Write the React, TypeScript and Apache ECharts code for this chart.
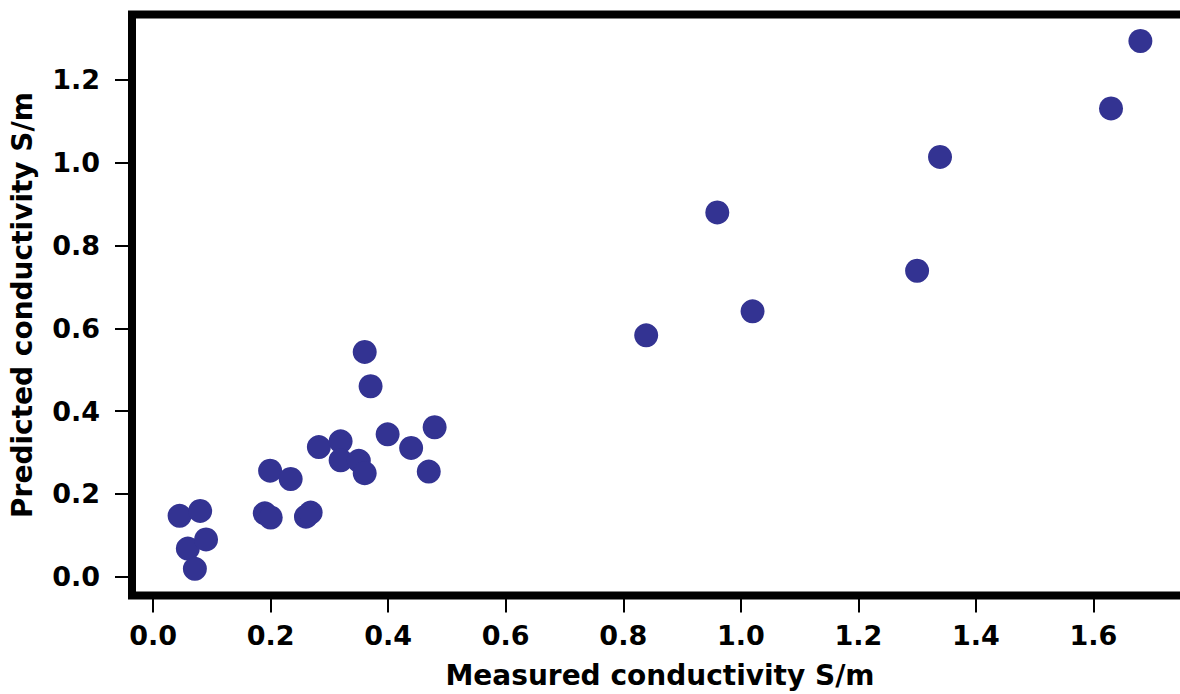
import React, { useEffect, useRef } from "react";
import * as echarts from "echarts";

const measured = [
  0.045, 0.08, 0.059, 0.09, 0.071, 0.19, 0.2, 0.199, 0.234, 0.26, 0.268, 0.282,
  0.319, 0.319, 0.35, 0.36, 0.36, 0.37, 0.399, 0.439, 0.479, 0.469, 0.839,
  0.96, 1.02, 1.3, 1.339, 1.63, 1.68,
];
const predicted = [
  0.147, 0.159, 0.068, 0.09, 0.019, 0.153, 0.143, 0.256, 0.236, 0.145, 0.155,
  0.313, 0.327, 0.281, 0.28, 0.25, 0.543, 0.46, 0.344, 0.311, 0.361, 0.254,
  0.583, 0.88, 0.641, 0.739, 1.014, 1.131, 1.294,
];
const xTicks = [0, 0.2, 0.4, 0.6, 0.8, 1.0, 1.2, 1.4, 1.6];
const yTicks = [0, 0.2, 0.4, 0.6, 0.8, 1.0, 1.2];
const xTitle = "Measured conductivity S/m";
const yTitle = "Predicted conductivity S/m";

const FONT = "DejaVu Sans";

export default function App() {
  const ref = useRef<HTMLDivElement>(null);
  useEffect(() => {
    if (!ref.current) return;
    const chart = echarts.init(ref.current, null, { renderer: "svg" });
    const labelStyle = {
      fontFamily: FONT,
      fontWeight: "bold" as const,
      fontSize: 27,
      color: "#000",
    };
    chart.setOption({
      animation: false,
      backgroundColor: "#fff",
      grid: {
        left: 132,
        top: 14.5,
        bottom: 98.5,
        right: -8,
        containLabel: false,
        outerBoundsMode: "none",
        show: true,
        borderColor: "#000",
        borderWidth: 8,
        backgroundColor: "transparent",
      },
      xAxis: {
        type: "value",
        min: -0.036,
        max: 1.761,
        splitLine: { show: false },
        axisLine: { show: false, onZero: false },
        axisTick: {
          show: true,
          inside: false,
          customValues: xTicks,
          length: 17,
          lineStyle: { color: "#000", width: 2 },
        },
        axisLabel: {
          ...labelStyle,
          inside: false,
          customValues: xTicks,
          margin: 26,
          formatter: (v: number) => v.toFixed(1),
        },
        name: xTitle,
        nameLocation: "middle",
        nameGap: 66,
        nameTextStyle: { ...labelStyle, fontSize: 28 },
      },
      yAxis: {
        type: "value",
        min: -0.0454,
        max: 1.358,
        splitLine: { show: false },
        axisLine: { show: false, onZero: false },
        axisTick: {
          show: true,
          inside: false,
          customValues: yTicks,
          length: 17,
          lineStyle: { color: "#000", width: 2 },
        },
        axisLabel: {
          ...labelStyle,
          inside: false,
          customValues: yTicks,
          margin: 32,
          formatter: (v: number) => v.toFixed(1),
        },
        name: yTitle,
        nameLocation: "middle",
        nameGap: 96,
        nameTextStyle: { ...labelStyle, fontSize: 28 },
      },
      series: [
        {
          type: "scatter",
          symbol: "circle",
          symbolSize: 24,
          itemStyle: { color: "#333392", opacity: 1 },
          data: measured.map((x, i) => [x, predicted[i]]),
        },
      ],
    });
    return () => chart.dispose();
  }, []);
  return (
    <div
      ref={ref}
      style={{ position: "fixed", left: 0, top: 0, width: 1180, height: 694 }}
    />
  );
}
